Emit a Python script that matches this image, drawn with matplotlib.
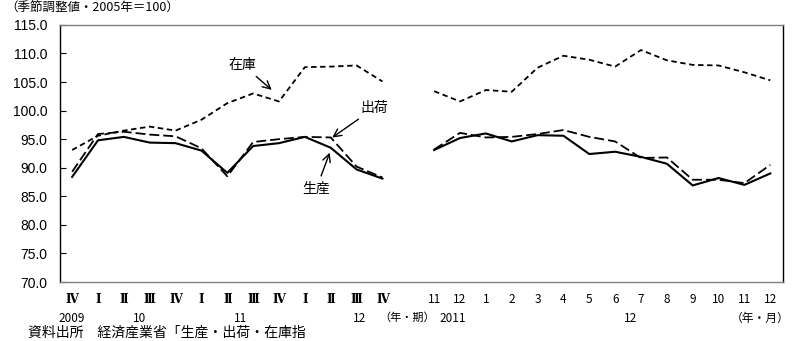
import numpy as np
import matplotlib
matplotlib.use("Agg")
import matplotlib.pyplot as plt
from matplotlib.transforms import blended_transform_factory

plt.rcParams['font.family'] = ['Noto Sans CJK JP', 'DejaVu Sans']

# 四半期（2009Ⅳ〜2012Ⅳ）
q_labels = ['Ⅳ', 'Ⅰ', 'Ⅱ', 'Ⅲ', 'Ⅳ', 'Ⅰ', 'Ⅱ', 'Ⅲ', 'Ⅳ', 'Ⅰ', 'Ⅱ', 'Ⅲ', 'Ⅳ']
prod_q = [88.4, 94.8, 95.4, 94.4, 94.3, 93.0, 89.1, 93.8, 94.3, 95.4, 93.5, 89.7, 88.1]
ship_q = [89.3, 95.9, 96.3, 95.8, 95.5, 93.4, 88.5, 94.5, 95.0, 95.4, 95.3, 90.2, 88.3]
inv_q = [93.1, 95.6, 96.5, 97.2, 96.5, 98.4, 101.3, 103.0, 101.6, 107.6, 107.7, 107.9, 105.1]

# 月次（2011年11月〜2012年12月）
m_labels = ['11', '12', '1', '2', '3', '4', '5', '6', '7', '8', '9', '10', '11', '12']
prod_m = [93.1, 95.2, 96.0, 94.6, 95.7, 95.6, 92.4, 92.8, 91.9, 90.7, 86.9, 88.2, 87.0, 89.0]
ship_m = [93.2, 96.1, 95.3, 95.4, 95.9, 96.6, 95.4, 94.6, 91.7, 91.8, 87.9, 87.9, 87.3, 90.5]
inv_m = [103.4, 101.6, 103.6, 103.3, 107.5, 109.6, 108.9, 107.7, 110.6, 108.8, 108.0, 107.9, 106.7, 105.3]

# 年の表示（位置はカテゴリ番号）
year_labels = ['2009', '10', '11', '12', '2011', '12']
year_pos = [0, 2.6, 6.5, 11.1, 14.7, 21.6]

nq = len(q_labels)
x_q = np.arange(nq)
x_m = np.arange(nq + 1, nq + 1 + len(m_labels))

fig = plt.figure(figsize=(8, 3.41), dpi=100)
ax = fig.add_axes([0.075, 0.173, 0.904, 0.754])

lw = 1.3
for xs, p, s, i in [(x_q, prod_q, ship_q, inv_q), (x_m, prod_m, ship_m, inv_m)]:
    ax.plot(xs, i, color='black', lw=lw, dashes=(3, 2))
    ax.plot(xs, s, color='black', lw=lw, dashes=(5.5, 2.2))
    ax.plot(xs, p, color='black', lw=1.5)

ax.set_xlim(-0.47, nq + len(m_labels) + 0.5)
ax.set_ylim(70, 115)
ax.set_yticks(np.arange(70, 115.1, 5))
ax.set_yticklabels([f'{v:.1f}' for v in np.arange(70, 115.1, 5)],
                   family=['Liberation Sans', 'DejaVu Sans'], fontsize=10)
ax.tick_params(axis='y', direction='in', length=4, width=0.8, pad=9)

ax.set_xticks(list(x_q) + list(x_m))
ax.set_xticklabels(q_labels + m_labels, fontsize=8.5)
ax.tick_params(axis='x', length=0, pad=8)
for lab in ax.get_xticklabels()[:nq]:
    lab.set_family(['DejaVu Serif', 'Noto Sans CJK JP'])
    lab.set_fontweight('bold')

for side in ['top', 'bottom']:
    ax.spines[side].set_color('#808080')
for side in ['left', 'right']:
    ax.spines[side].set_color('black')
for sp in ax.spines.values():
    sp.set_linewidth(1.0)

trans = blended_transform_factory(ax.transData, ax.transAxes)
for txt, xp in zip(year_labels, year_pos):
    ax.text(xp, -0.14, txt, transform=trans, ha='center', va='center', fontsize=8.5)
ax.text(12.95, -0.14, '（年・期）', transform=trans, ha='center', va='center', fontsize=8)
ax.text(26.6, -0.14, '（年・月）', transform=trans, ha='center', va='center', fontsize=8.5)

# 系列名と矢印
arrow = dict(arrowstyle='->', lw=1.0, color='black', mutation_scale=14)
ax.annotate('在庫', xy=(7.8, 103.3), xytext=(6.6, 108.0), fontsize=10,
            ha='center', va='center', arrowprops=arrow)
ax.annotate('出荷', xy=(9.97, 95.0), xytext=(11.7, 100.5), fontsize=10,
            ha='center', va='center', arrowprops=arrow)
ax.annotate('生産', xy=(10.0, 93.1), xytext=(9.45, 86.4), fontsize=10,
            ha='center', va='center', arrowprops=arrow)

fig.text(0.006, 0.975, '（季節調整値・2005年＝100）', ha='left', va='center', fontsize=9)
fig.text(0.035, 0.023, '資料出所　経済産業省「生産・出荷・在庫指', ha='left', va='center', fontsize=10)

fig.savefig('out.png', dpi=100)
